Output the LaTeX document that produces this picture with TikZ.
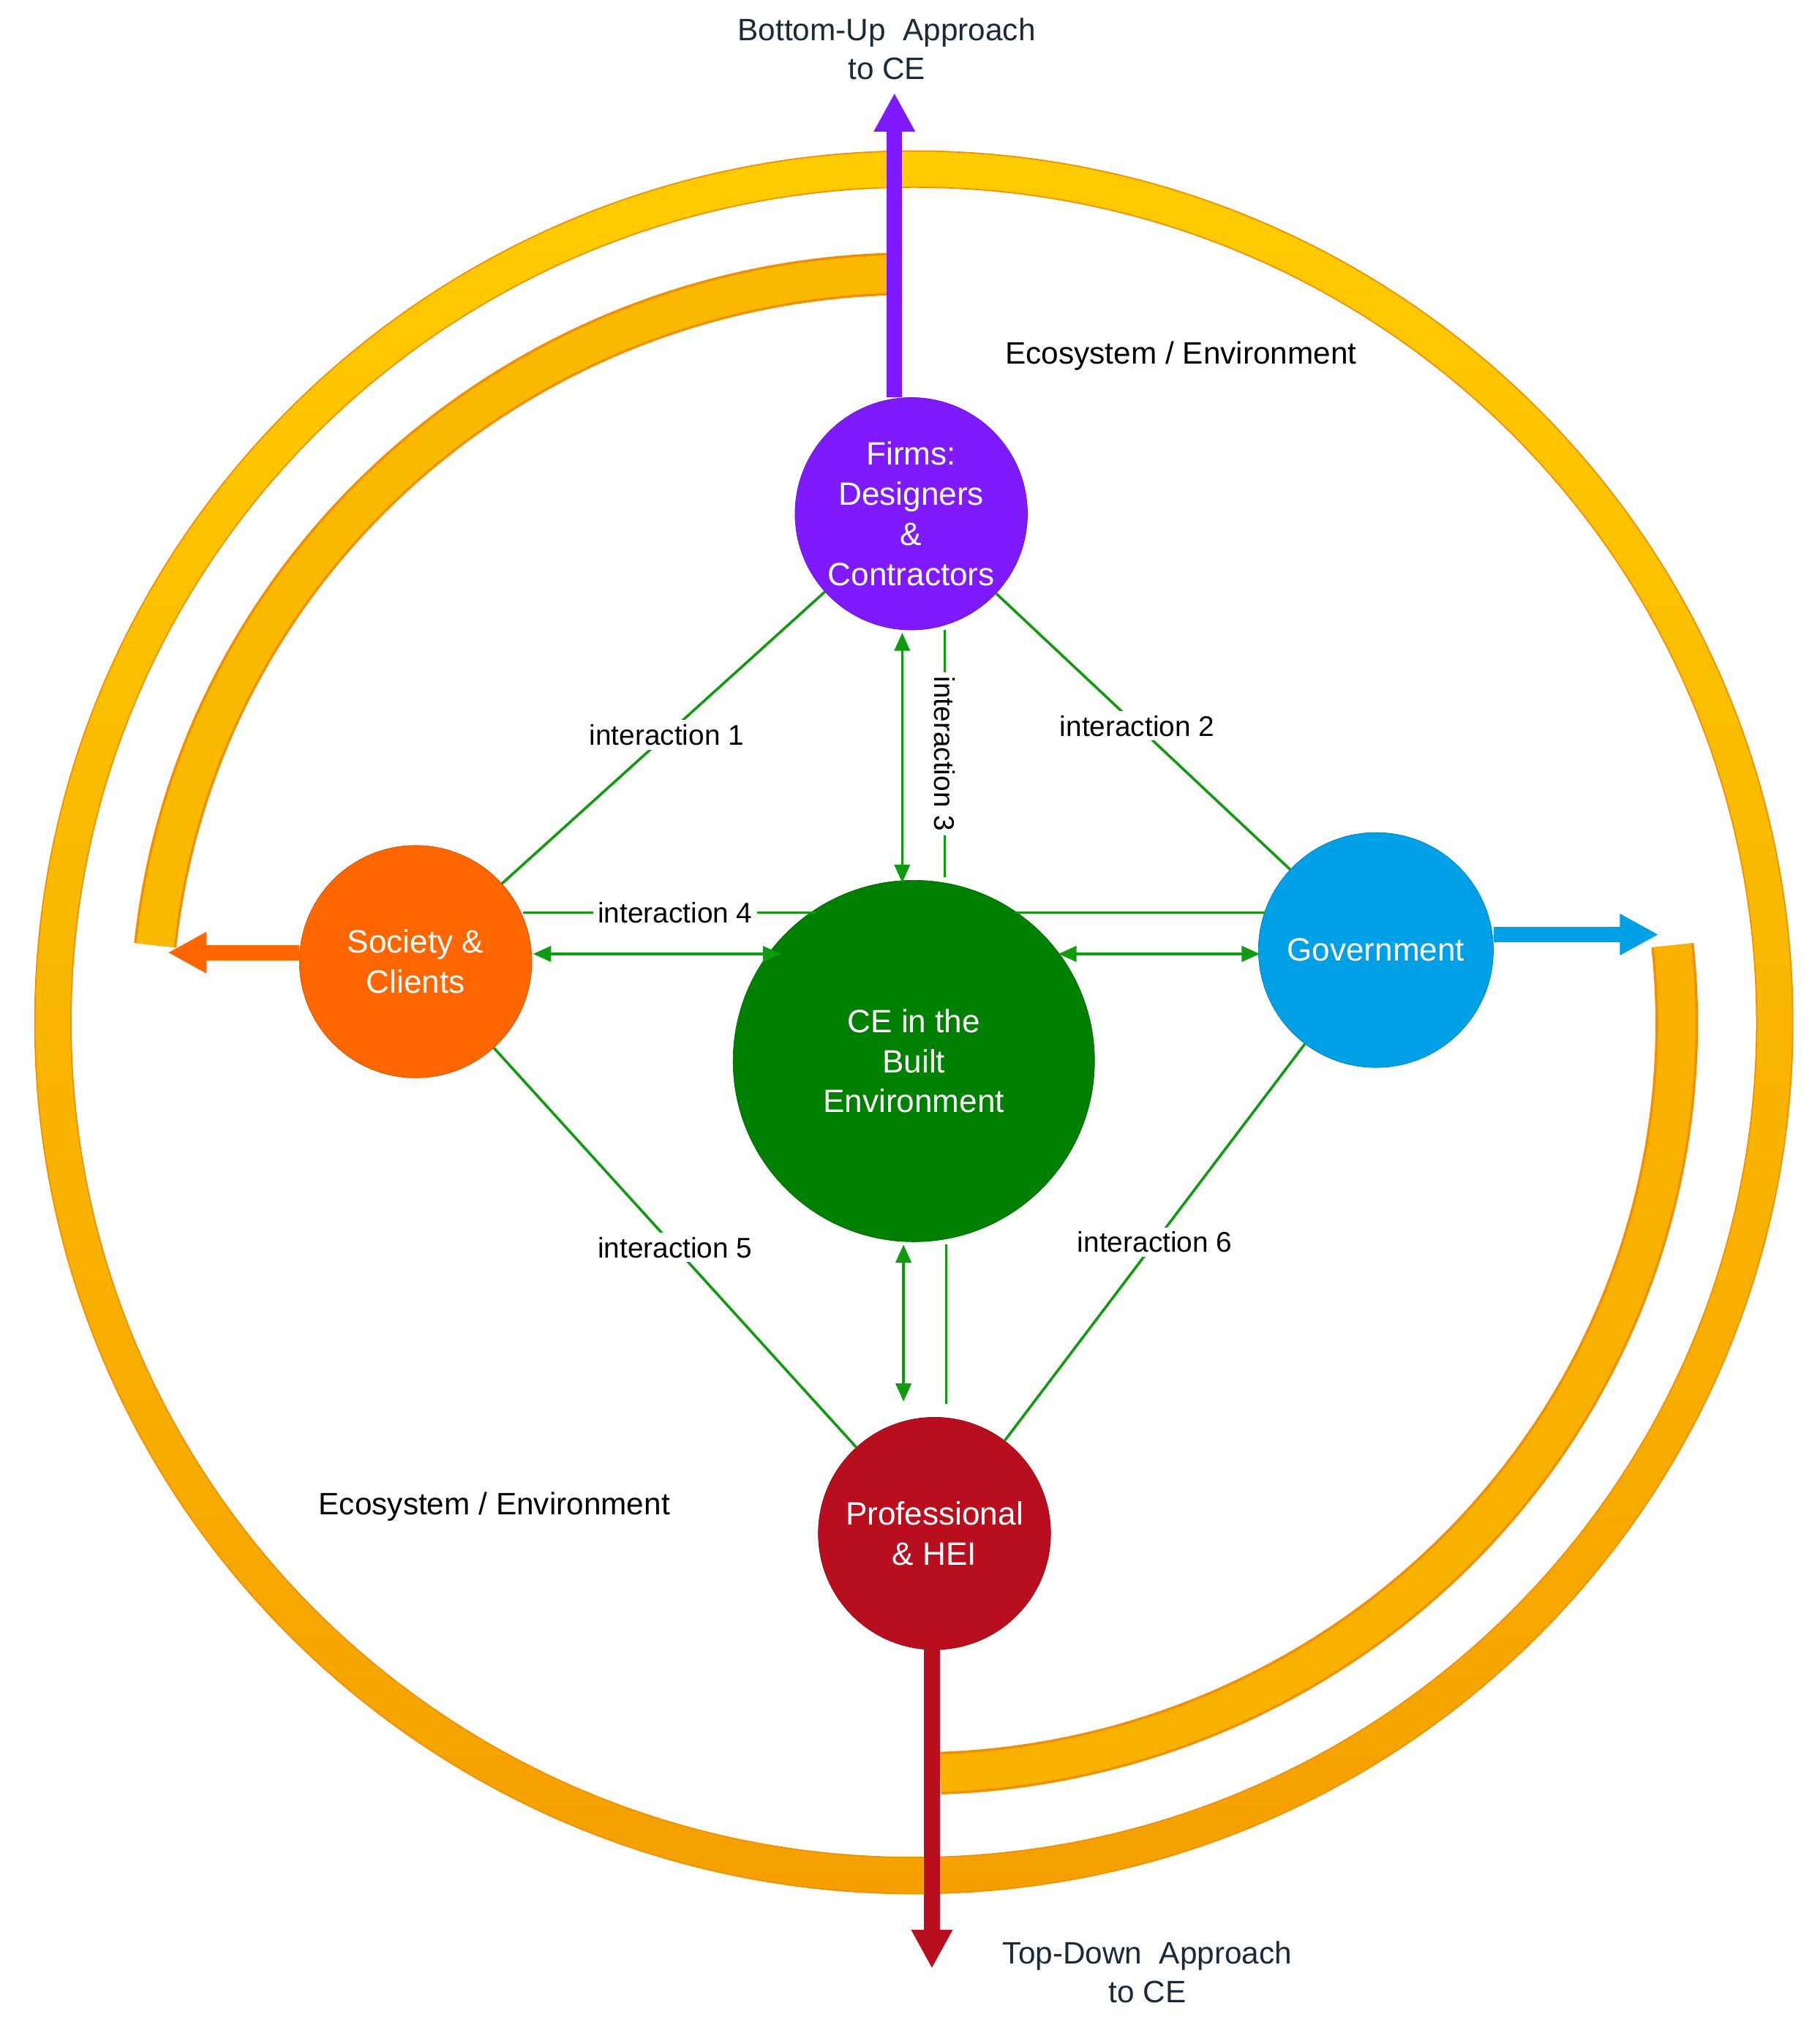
\documentclass[tikz,border=0pt]{standalone}
\usepackage{fontspec}
\setmainfont{Liberation Sans}
\usetikzlibrary{arrows.meta,calc}
\definecolor{ring1}{HTML}{FFCC00}
\definecolor{ring2}{HTML}{F5A000}
\definecolor{ringedge}{HTML}{F09000}
\definecolor{gline}{HTML}{109A10}
\definecolor{cpurple}{HTML}{7F1AFF}
\definecolor{corange}{HTML}{FF6600}
\definecolor{cgreen}{HTML}{008000}
\definecolor{cblue}{HTML}{00A0E6}
\definecolor{cred}{HTML}{B90E1E}
\definecolor{ttext}{HTML}{1A2A3A}
\begin{document}
\begin{tikzpicture}[x=1pt,y=-1pt,
  actor/.style={circle,draw=#1!80!black,fill=#1,text=white,align=center,inner sep=0pt,
    font=\fontsize{25}{31}\selectfont},
  lbl/.style={font=\fontsize{22}{27}\selectfont,text=black},
  big/.style={font=\fontsize{24}{30}\selectfont,text=ttext,align=center},
  gl/.style={gline,line width=2},
  gd/.style={gline,line width=2,{Triangle[length=14,width=12]}-{Triangle[length=14,width=12]}},
  outarr/.style={line width=12,-{Triangle[length=30,width=30]}}]
\useasboundingbox (0,0) rectangle (1410,1575);
\fill[white] (0,0) rectangle (1410,1575);
% outer ring
\shade[top color=ring1,bottom color=ring2,even odd rule,draw=ringedge,line width=1]
  (708,792) ellipse [x radius=681,y radius=675] (708,792) ellipse [x radius=653,y radius=647];
% inner arcs
\draw[ringedge,line width=33] (687.4,212.4) arc[start angle=268,end angle=186,x radius=591,y radius=581];
\draw[ring1!60!ring2,line width=29] (687.4,212.4) arc[start angle=268,end angle=186,x radius=591,y radius=581];
\draw[ringedge,line width=33] (1295.8,732.3) arc[start angle=-6,end angle=88,x radius=591,y radius=581];
\draw[ring1!40!ring2,line width=29] (1295.8,732.3) arc[start angle=-6,end angle=88,x radius=591,y radius=581];
% actors
\node[actor=cpurple,minimum size=180] (firms) at (706,398) {Firms:\\Designers\\\&\\Contractors};
\node[actor=corange,minimum size=180] (soc) at (322,745) {Society \&\\Clients};
\node[actor=cgreen,minimum size=280] (ce) at (708,822) {CE in the\\Built\\Environment};
\node[actor=cblue,minimum size=182] (gov) at (1066,736) {Government};
\node[actor=cred,minimum size=180] (prof) at (724,1188) {Professional\\\& HEI};
% outward arrows
\coordinate (bu) at (693,72);
\coordinate (so) at (130,738);
\coordinate (go) at (1285,724);
\coordinate (td) at (722,1525);
\draw[outarr,cpurple] (firms.north -| bu) -- (bu);
\draw[outarr,corange] (soc.west |- so) -- (so);
\draw[outarr,cblue] (gov.east |- go) -- (go);
\draw[outarr,cred] (prof.south -| td) -- (td);
% green connectors
\draw[gl] (firms) -- node[lbl,fill=white,pos=0.49]{interaction 1} (soc);
\draw[gl] (firms) -- node[lbl,fill=white,pos=0.48]{interaction 2} (gov);
\draw[gl] (soc) -- node[lbl,fill=white,pos=0.5]{interaction 5} (prof);
\draw[gl] (gov) -- node[lbl,fill=white,pos=0.5]{interaction 6} (prof);
\draw[gl] ([xshift=26]firms.south) -- node[lbl,fill=white,rotate=-90,pos=0.5]{interaction 3} ([xshift=24,yshift=2]ce.north);
\draw[gd] ([xshift=-7,yshift=-2]firms.south) -- ([xshift=-9,yshift=-2]ce.north);
\draw[gl] ([xshift=25,yshift=-2]ce.south) -- ([xshift=9,yshift=10]prof.north);
\draw[gd] ([xshift=-8,yshift=-2]ce.south) -- ([xshift=-24,yshift=12]prof.north);
\coordinate (h4a) at (405,707);
\coordinate (h4b) at (632,707);
\coordinate (h4c) at (786,707);
\coordinate (h4d) at (980,707);
\draw[gl] (h4a) -- node[lbl,fill=white,pos=0.52]{interaction 4} (h4b);
\draw[gl] (h4c) -- (h4d);
\coordinate (a1) at (413,739);
\coordinate (a2) at (605,739);
\coordinate (a3) at (820,739);
\coordinate (a4) at (976,739);
\draw[gd] (a1) -- (a2);
\draw[gd] (a3) -- (a4);
% texts
\node[big] (t1) at (687,38) {Bottom-Up\ \ Approach\\to CE};
\node[big] (t2) at (889,1528) {Top-Down\ \ Approach\\to CE};
\node[lbl,font=\fontsize{24}{30}\selectfont] (e1) at (915,276) {Ecosystem / Environment};
\node[lbl,font=\fontsize{24}{30}\selectfont] (e2) at (383,1167) {Ecosystem / Environment};
\end{tikzpicture}
\end{document}
